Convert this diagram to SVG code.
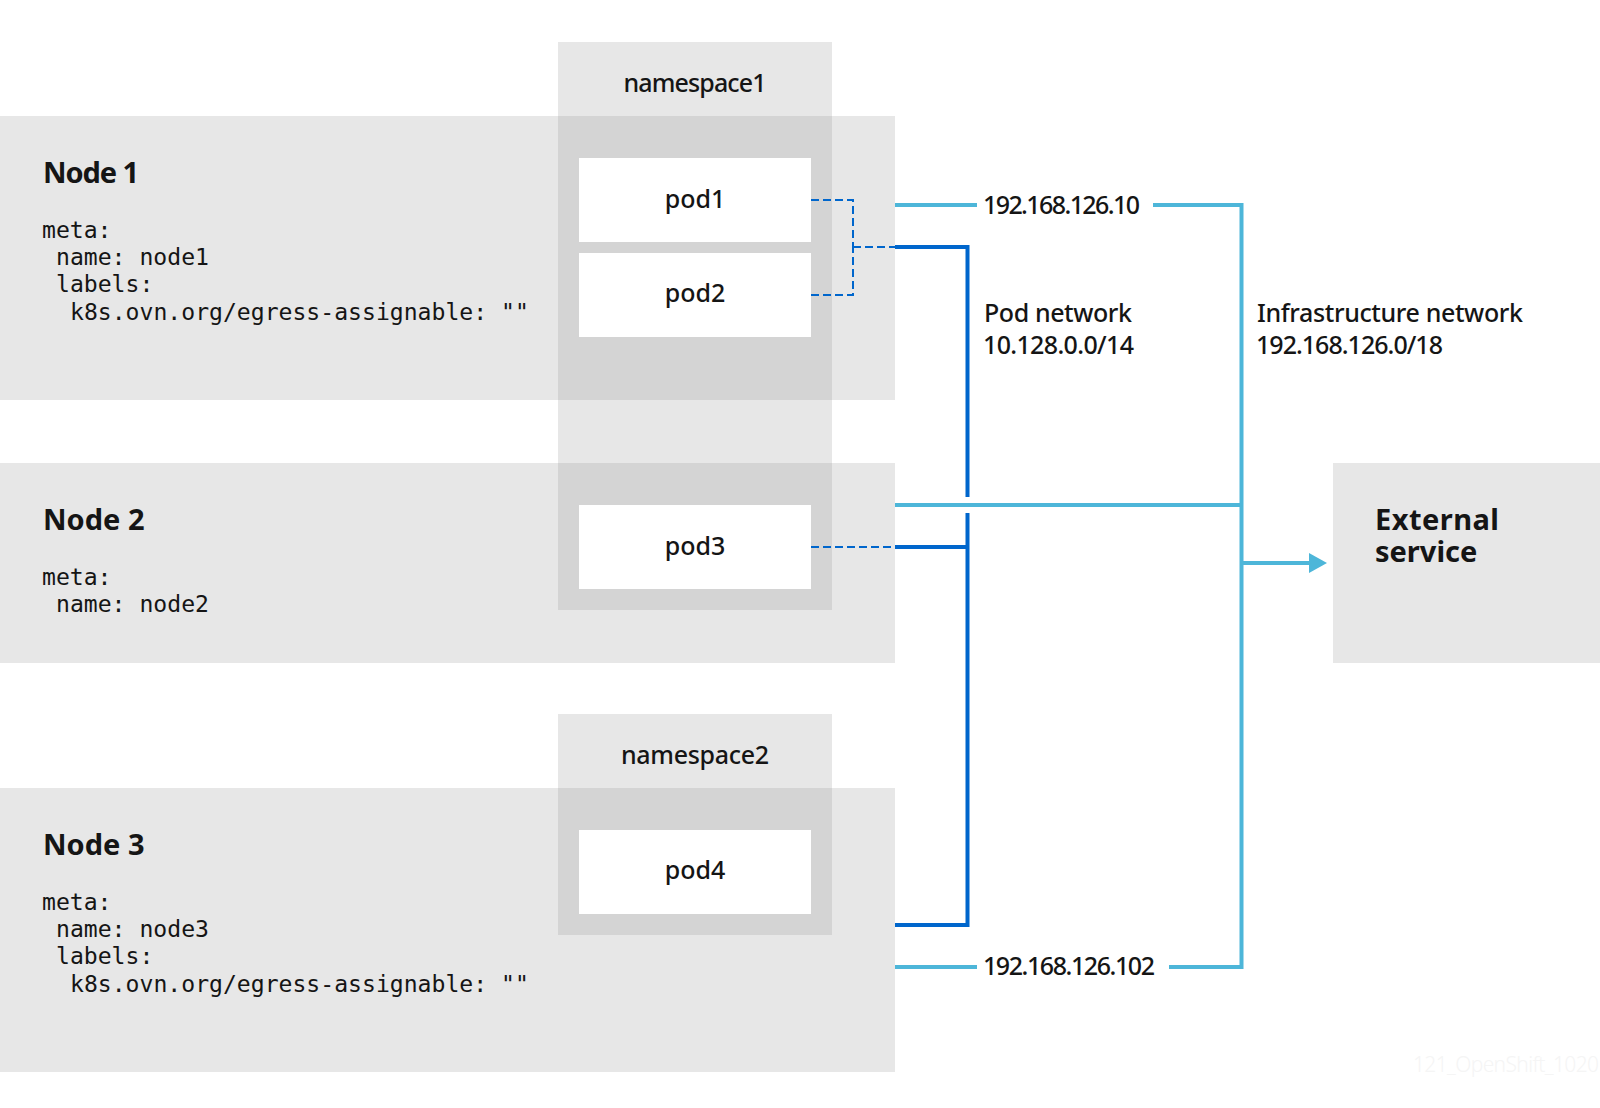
<svg xmlns="http://www.w3.org/2000/svg" width="1600" height="1108" viewBox="0 0 1600 1108">
<style>
.box{fill:#e7e7e7}.ov{fill:#d4d4d4}.pod{fill:#fff}
text{fill:#151515;font-family:"Noto Sans","Open Sans",sans-serif}
.t{font-size:29px;font-weight:700}
.m{font-size:23.1px;font-family:"DejaVu Sans Mono",monospace}
.l{font-size:25px;font-weight:500}
.c{font-size:25px;font-weight:500;text-anchor:middle}
.cy{fill:none;stroke:#4db6d9;stroke-width:4}
.bl{fill:none;stroke:#06c;stroke-width:4}
.da{fill:none;stroke:#06c;stroke-width:2;stroke-dasharray:8 4}
.wm{fill:#f5f5f5;font-size:21px;font-weight:300}
</style>
<defs><marker id="a" markerUnits="userSpaceOnUse" markerWidth="18" markerHeight="20" refX="1" refY="10" orient="auto"><path d="M0 0L18 10L0 20Z" fill="#4db6d9"/></marker></defs>
<rect width="1600" height="1108" fill="#fff"/>
<g id="namespace1-band"><rect class="box" x="558" y="42" width="274" height="568"/></g>
<g id="namespace2-band"><rect class="box" x="558" y="714" width="274" height="221"/></g>
<g id="node1"><rect class="box" x="0" y="116" width="895" height="284"/><text class="t" x="43" y="183" textLength="96">Node 1</text>
<text class="m" x="42" y="238">meta:</text><text class="m" x="56" y="265">name: node1</text><text class="m" x="56" y="292">labels:</text><text class="m" x="70" y="320">k8s.ovn.org/egress-assignable: ""</text></g>
<g id="node2"><rect class="box" x="0" y="463" width="895" height="200"/><text class="t" x="43" y="530">Node 2</text>
<text class="m" x="42" y="585">meta:</text><text class="m" x="56" y="612">name: node2</text></g>
<g id="node3"><rect class="box" x="0" y="788" width="895" height="284"/><text class="t" x="43" y="855">Node 3</text>
<text class="m" x="42" y="910">meta:</text><text class="m" x="56" y="937">name: node3</text><text class="m" x="56" y="964">labels:</text><text class="m" x="70" y="992">k8s.ovn.org/egress-assignable: ""</text></g>
<g id="external"><rect class="box" x="1333" y="463" width="267" height="200"/><text class="t" x="1375" y="530" textLength="124">External</text><text class="t" x="1375" y="562">service</text></g>
<g id="namespace1"><rect class="ov" x="558" y="116" width="274" height="284"/><rect class="ov" x="558" y="463" width="274" height="147"/><text class="c" x="695" y="92" textLength="143">namespace1</text></g>
<g id="namespace2"><rect class="ov" x="558" y="788" width="274" height="147"/><text class="c" x="695" y="764" textLength="148">namespace2</text></g>
<g id="pod1"><rect class="pod" x="579" y="158" width="232" height="84"/><text class="c" x="695" y="208">pod1</text></g>
<g id="pod2"><rect class="pod" x="579" y="253" width="232" height="84"/><text class="c" x="695" y="302">pod2</text></g>
<g id="pod3"><rect class="pod" x="579" y="505" width="232" height="84"/><text class="c" x="695" y="555">pod3</text></g>
<g id="pod4"><rect class="pod" x="579" y="830" width="232" height="84"/><text class="c" x="695" y="879">pod4</text></g>
<g id="connectors">
<path class="cy" d="M895 205H977M1153 205H1241.500V967H1169M977 967H895M895 505H1241.500"/>
<path class="cy" d="M1241.500 563H1310" marker-end="url(#a)"/>
<path class="bl" d="M895 247H967.500V497M967.500 513V925H895M895 547H967.500"/>
<path class="da" d="M811 200H853V247M811 295H853V247M853 247H895M811 547H895"/>
</g>
<g id="labels">
<text class="l" x="983" y="214" textLength="157">192.168.126.10</text><text class="l" x="983" y="975" textLength="172">192.168.126.102</text>
<text class="l" x="984" y="322" textLength="148">Pod network</text><text class="l" x="983" y="354" textLength="151">10.128.0.0/14</text>
<text class="l" x="1257" y="322" textLength="266">Infrastructure network</text><text class="l" x="1256" y="354" textLength="187">192.168.126.0/18</text>
<text class="wm" x="1413" y="1072" textLength="186">121_OpenShift_1020</text>
</g>
</svg>
